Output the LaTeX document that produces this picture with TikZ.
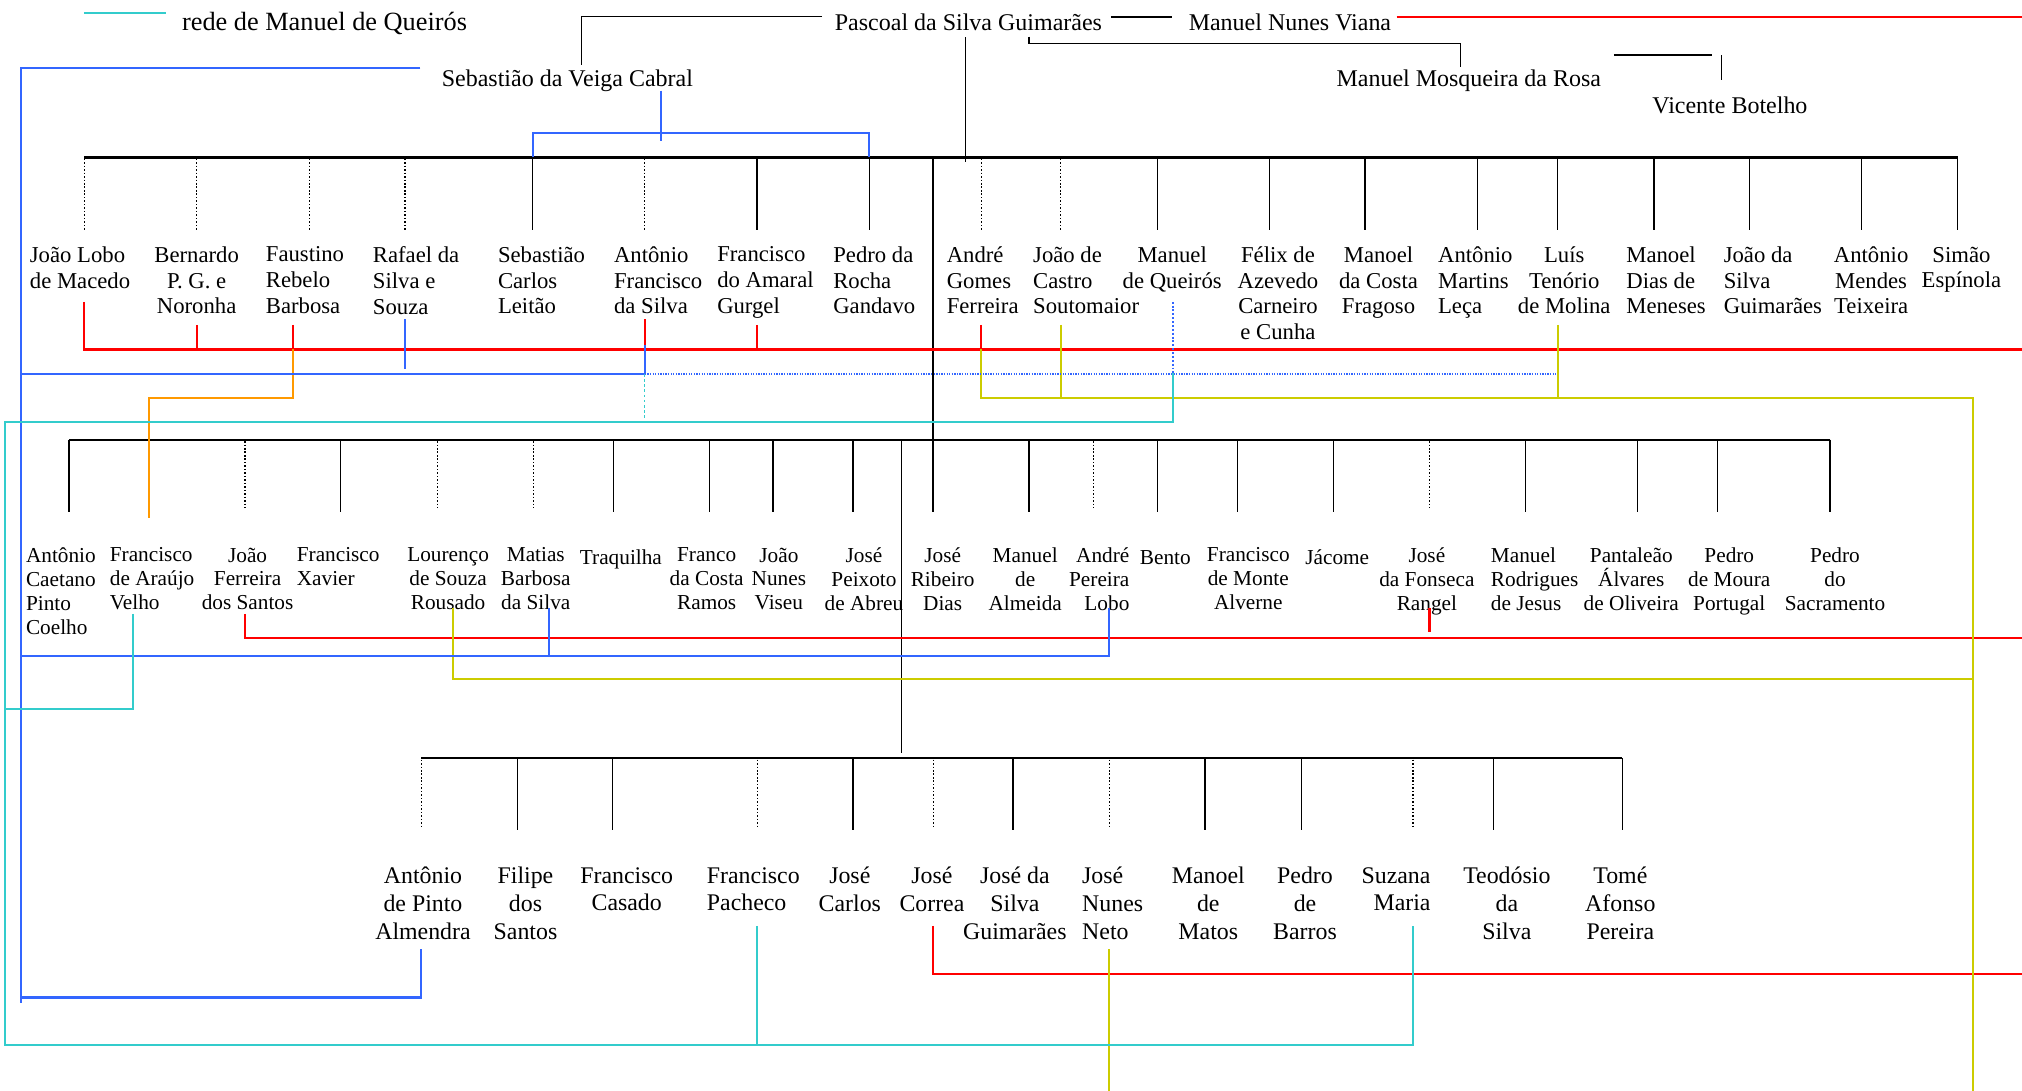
\documentclass[tikz,border=0pt]{standalone}
\usepackage{fontspec}
\setmainfont{Liberation Serif}
\definecolor{cred}{HTML}{FF0000}
\definecolor{cblue}{HTML}{3366FF}
\definecolor{cteal}{HTML}{33CCCC}
\definecolor{cyel}{HTML}{CCCC00}
\definecolor{corange}{HTML}{FF9900}
\begin{document}
\begin{tikzpicture}[x=1pt,y=-1pt,
  blk/.style={line width=1pt},
  thk/.style={line width=1.4pt},
  bar/.style={line width=1.9pt},
  drop/.style={line width=1pt},
  dotdrop/.style={line width=1pt,dash pattern=on 1.2pt off 1.5pt},
  net/.style={line width=1.6pt},
  toplab/.style={font=\fontsize{18.6}{21}\selectfont,inner sep=0pt},
  rowa/.style={font=\fontsize{17.6}{19.9}\selectfont,inner sep=0pt,execute at begin node={\rule{0pt}{0.78em}}},
  rowb/.style={font=\fontsize{16.5}{18.6}\selectfont,inner sep=0pt,execute at begin node={\rule{0pt}{0.78em}}},
  rowc/.style={font=\fontsize{18.5}{21.5}\selectfont,inner sep=0pt,execute at begin node={\rule{0pt}{0.78em}}},
  cc/.style={anchor=north,align=center},
  ll/.style={anchor=north west,align=left},
  rr/.style={anchor=north east,align=right}]
\useasboundingbox (0,0) rectangle (1568,846);

% ---------- top labels ----------
\node[toplab,font=\fontsize{20.4}{22}\selectfont,anchor=base west] (legend) at (141,24) {rede de Manuel de Queirós};
\node[toplab,anchor=base] (pascoal) at (751,23.3) {Pascoal da Silva Guimarães};
\node[toplab,anchor=base] (viana) at (1000.3,23.3) {Manuel Nunes Viana};
\node[toplab,anchor=base] (svc) at (440,67) {Sebastião da Veiga Cabral};
\node[toplab,anchor=base] (mmr) at (1139,67) {Manuel Mosqueira da Rosa};
\node[toplab,anchor=base] (vb) at (1341.5,88.4) {Vicente Botelho};

% ---------- row 1 ----------
\node[rowa,ll] (a1) at (23,191.2) {João Lobo\\de Macedo};
\node[rowa,cc] (a2) at (152.5,191.2) {Bernardo\\P. G. e\\Noronha};
\node[rowa,ll] (a3) at (206,191.2) {Faustino\\Rebelo\\ Barbosa};
\node[rowa,ll] (a4) at (289,191.2) {Rafael da\\Silva e\\Souza};
\node[rowa,ll] (a5) at (386,191.2) {Sebastião\\Carlos\\Leitão};
\node[rowa,ll] (a6) at (476,191.2) {Antônio\\Francisco\\da Silva};
\node[rowa,ll] (a7) at (556,191.2) {Francisco\\do Amaral\\Gurgel};
\node[rowa,ll] (a8) at (646,191.2) {Pedro da\\Rocha\\Gandavo};
\node[rowa,ll] (a9) at (734,191.2) {André\\Gomes\\Ferreira};
\node[rowa,ll] (a10) at (801,191.2) {João de\\Castro\\Soutomaior};
\node[rowa,cc] (a11) at (909,191.2) {Manuel\\de Queirós};
\node[rowa,cc] (a12) at (991,191.2) {Félix de\\Azevedo\\Carneiro\\e Cunha};
\node[rowa,cc] (a13) at (1069,191.2) {Manoel\\da Costa\\Fragoso};
\node[rowa,ll] (a14) at (1115,191.2) {Antônio\\Martins\\Leça};
\node[rowa,cc] (a15) at (1213,191.2) {Luís\\Tenório\\de Molina};
\node[rowa,ll] (a16) at (1261,191.2) {Manoel\\Dias de\\Meneses};
\node[rowa,ll] (a17) at (1336.5,191.2) {João da\\Silva\\Guimarães};
\node[rowa,cc] (a18) at (1451,191.2) {Antônio\\Mendes\\Teixeira};
\node[rowa,cc] (a19) at (1521,191.2) {Simão\\Espínola};

% ---------- row 2 ----------
\node[rowb,ll] (b1) at (20,424.5) {Antônio\\Caetano\\Pinto\\Coelho};
\node[rowb,ll] (b2) at (85,424.5) {Francisco\\de Araújo\\Velho};
\node[rowb,cc] (b3) at (192,424.5) {João\\Ferreira\\dos Santos};
\node[rowb,ll] (b4) at (230,424.5) {Francisco\\Xavier};
\node[rowb,cc] (b5) at (347.5,424.5) {Lourenço\\de Souza\\Rousado};
\node[rowb,cc] (b6) at (415.5,424.5) {Matias\\Barbosa\\da Silva};
\node[rowb,cc] (b7) at (481.5,424.5) {Traquilha};
\node[rowb,cc] (b8) at (548,424.5) {Franco\\da Costa\\Ramos};
\node[rowb,cc] (b9) at (604,424.5) {João\\Nunes\\Viseu};
\node[rowb,cc] (b10) at (670,424.5) {José\\Peixoto\\de Abreu};
\node[rowb,cc] (b11) at (731,424.5) {José\\Ribeiro\\Dias};
\node[rowb,cc] (b12) at (795,424.5) {Manuel\\de\\Almeida};
\node[rowb,rr] (b13) at (876,424.5) {André\\Pereira\\Lobo};
\node[rowb,cc] (b14) at (903.7,424.5) {Bento};
\node[rowb,cc] (b15) at (968,424.5) {Francisco\\de Monte\\Alverne};
\node[rowb,cc] (b16) at (1037,424.5) {Jácome};
\node[rowb,cc] (b17) at (1106.5,424.5) {José\\da Fonseca\\Rangel};
\node[rowb,ll] (b18) at (1156,424.5) {Manuel\\Rodrigues\\de Jesus};
\node[rowb,cc] (b19) at (1265,424.5) {Pantaleão\\Álvares\\de Oliveira};
\node[rowb,cc] (b20) at (1341,424.5) {Pedro\\de Moura\\Portugal};
\node[rowb,cc] (b21) at (1423,424.5) {Pedro\\do\\Sacramento};

% ---------- row 3 ----------
\node[rowc,cc] (c1) at (328,672.4) {Antônio\\de Pinto\\Almendra};
\node[rowc,cc] (c2) at (407.5,672.4) {Filipe\\dos\\Santos};
\node[rowc,cc] (c3) at (486,672.4) {Francisco\\Casado};
\node[rowc,ll] (c4) at (548,672.4) {Francisco\\Pacheco};
\node[rowc,cc] (c5) at (659,672.4) {José\\Carlos};
\node[rowc,cc] (c6) at (722.7,672.4) {José\\Correa};
\node[rowc,cc] (c7) at (787,672.4) {José da\\Silva\\Guimarães};
\node[rowc,ll] (c8) at (839,672.4) {José\\Nunes\\Neto};
\node[rowc,cc] (c9) at (937,672.4) {Manoel\\de\\Matos};
\node[rowc,cc] (c10) at (1012,672.4) {Pedro\\de\\Barros};
\node[rowc,rr] (c11) at (1109.5,672.4) {Suzana\\Maria};
\node[rowc,cc] (c12) at (1168.5,672.4) {Teodósio\\da\\Silva};
\node[rowc,cc] (c13) at (1256.5,672.4) {Tomé\\Afonso\\Pereira};

% ---------- black genealogy ----------
\draw[blk] (637.5,12.9) -- (451,12.9) -- (451,50.4);
\draw[blk] (748.5,29) -- (748.5,125.4);
\draw[thk] (861.5,12.9) -- (909,12.9);
\draw[blk] (798,28.4) -- (798,34) -- (1132.5,34) -- (1132.5,51.7);
\draw[thk] (1251.5,42.7) -- (1327.5,42.7);
\draw[blk] (1335,42.7) -- (1335,62);

\draw[bar] (65.5,122) -- (1518,122);
\foreach \x in {413,587,674,897.5,984.5,1058.5,1145.5,1208,1282.5,1356.5,1443.5,1518}
  \draw[drop] (\x,122) -- (\x,178.4);
\foreach \x in {65.5,152.5,240,314,500,761,822.5}
  \draw[dotdrop] (\x,123) -- (\x,178.4);
\draw[blk] (723.5,122) -- (723.5,397);

\draw[bar] (53.5,341) -- (1419,341);
\foreach \x in {53.5,264,475.5,550,599.5,661.5,798,897.5,959.5,1034,1183,1270,1332,1419}
  \draw[drop] (\x,341) -- (\x,397);
\foreach \x in {190,339,413.5,848,1108.5}
  \draw[dotdrop] (\x,342) -- (\x,394);
\draw[blk] (699,341) -- (699,584);

\draw[bar] (326.6,588) -- (1258,588);
\foreach \x in {401.3,475,661.5,785.6,934.5,1009,1158.2,1258}
  \draw[drop] (\x,588) -- (\x,644);
\foreach \x in {326.6,587.3,723.8,860.3,1095.8}
  \draw[dotdrop] (\x,589) -- (\x,643);

% ---------- legend line ----------
\draw[net,cteal] (65,10.3) -- (128.5,10.3);

% ---------- red network ----------
\draw[net,cred] (1083,12.9) -- (1568,12.9);
\draw[net,cred] (65.5,234) -- (65.5,271) -- (1568,271);
\foreach \x/\y in {152.5/252,227.5/252,500/247.5,587/252,761/252}
  \draw[net,cred] (\x,\y) -- (\x,271);
\draw[net,cred] (190,476) -- (190,494.5) -- (1568,494.5);
\draw[net,cred] (1108.5,471.6) -- (1108.5,490);
\draw[net,cred] (723.8,718) -- (723.8,755.5) -- (1568,755.5);

% ---------- orange ----------
\draw[net,corange] (227.5,271) -- (227.5,308.4) -- (115.5,308.4) -- (115.5,402);

% ---------- yellow network ----------
\draw[net,cyel] (761,271) -- (761,308.4) -- (1530,308.4) -- (1530,846);
\draw[net,cyel] (822.5,252) -- (822.5,308.4);
\draw[net,cyel] (1208,252) -- (1208,308.4);
\draw[net,cyel] (351.5,471.5) -- (351.5,526.6) -- (1530,526.6);
\draw[net,cyel] (860.3,736) -- (860.3,846);

% ---------- blue network ----------
\draw[net,cblue] (326,52.5) -- (16.5,52.5) -- (16.5,778);
\draw[net,cblue] (512.5,70.3) -- (512.5,109);
\draw[net,cblue] (413,122) -- (413,103.4) -- (674,103.4) -- (674,122);
\draw[net,cblue] (16.5,290) -- (500,290);
\draw[line width=1.1pt,cblue,dash pattern=on 1pt off 1pt] (500,290) -- (1207,290);
\draw[net,cblue] (314,247.5) -- (314,286);
\draw[net,cblue] (500,267.5) -- (500,290);
\draw[line width=1.1pt,cblue,dash pattern=on 1.5pt off 1.5pt] (909.5,234) -- (909.5,289.5);
\draw[net,cblue] (16.5,508.7) -- (860.3,508.7) -- (860.3,471.5);
\draw[net,cblue] (425.5,471.5) -- (425.5,508.7);
\draw[net,cblue] (16.5,773.5) -- (326.6,773.5) -- (326.6,736);

% ---------- teal network ----------
\draw[line width=1.1pt,cteal,dash pattern=on 2pt off 2pt] (500,290) -- (500,324.4);
\draw[net,cteal] (909.5,289.5) -- (909.5,327) -- (3.6,327) -- (3.6,810.5) -- (1096,810.5) -- (1096,718);
\draw[net,cteal] (587.3,718) -- (587.3,810.5);
\draw[net,cteal] (103.2,476) -- (103.2,550) -- (3.6,550);
\end{tikzpicture}
\end{document}
